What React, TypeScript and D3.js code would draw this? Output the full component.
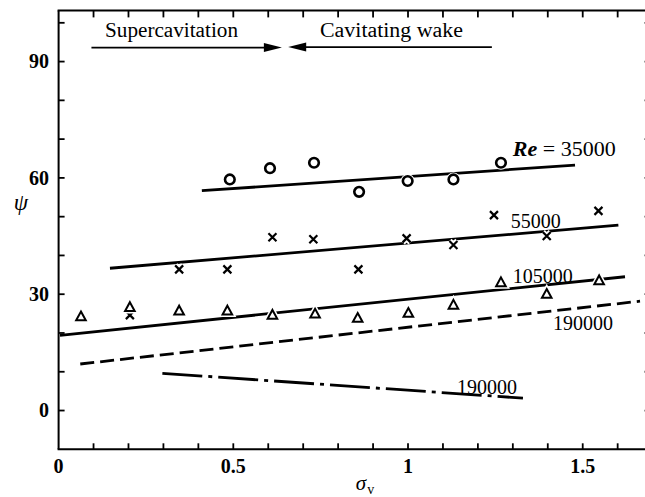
import React from "react";
import * as d3 from "d3";

const W = 645;
const H = 497;

// Measured points, psi against sigma_v, one pair of arrays per Reynolds number
const sigmaRe35000 = [0.49, 0.605, 0.731, 0.86, 0.999, 1.13, 1.266];
const psiRe35000 = [59.6, 62.5, 63.9, 56.4, 59.2, 59.6, 63.9];

const sigmaRe55000 = [0.204, 0.345, 0.483, 0.612, 0.729, 0.858, 0.996, 1.13, 1.246, 1.397, 1.545];
const psiRe55000 = [24.6, 36.4, 36.4, 44.7, 44.2, 36.4, 44.4, 42.7, 50.4, 45.0, 51.5];

const sigmaRe105000 = [0.064, 0.204, 0.345, 0.483, 0.612, 0.734, 0.856, 1.001, 1.13, 1.266, 1.397, 1.547];
const psiRe105000 = [24.2, 26.6, 25.7, 25.7, 24.6, 24.9, 23.8, 25.1, 27.2, 33.0, 30.0, 33.5];

// Trend lines: sigma_v at both ends, psi at both ends
const fitSigma35000 = [0.41, 1.478];
const fitPsi35000 = [56.7, 63.3];
const fitSigma55000 = [0.147, 1.602];
const fitPsi55000 = [36.7, 47.8];
const fitSigma105000 = [0.004, 1.621];
const fitPsi105000 = [19.4, 34.5];
const fitSigma190000a = [0.062, 1.664];
const fitPsi190000a = [12.0, 28.2];
const fitSigma190000b = [0.297, 1.329];
const fitPsi190000b = [9.6, 3.2];

// Axis ticks
const xMinorTicks = d3.range(1, 18).map((i) => i / 10);
const xLabelTicks = [0, 0.5, 1, 1.5];
const xLabelText = ["0", "0.5", "1", "1.5"];
const yMinorTicks = d3.range(0, 11).map((i) => i * 10);
const yLabelTicks = [0, 30, 60, 90];

const FONT = "'Liberation Serif', 'Times New Roman', serif";

export default function App() {
  const x = d3.scaleLinear().domain([0, 1.7]).range([58.6, 652.6]);
  const y = d3.scaleLinear().domain([-10, 103.2]).range([449.3, 10.4]);

  const line = d3
    .line<[number, number]>()
    .x((d) => x(d[0]))
    .y((d) => y(d[1]));

  const seg = (s: number[], p: number[]) =>
    line([
      [s[0], p[0]],
      [s[1], p[1]],
    ]) as string;

  const x0 = x(0);
  const yTop = y(103.2);
  const yBot = y(-10);
  const xRight = x(1.7);

  const circles = sigmaRe35000.map((s, i) => [s, psiRe35000[i]]);
  const crosses = sigmaRe55000.map((s, i) => [s, psiRe55000[i]]);
  const triangles = sigmaRe105000.map((s, i) => [s, psiRe105000[i]]);

  const triPath = "M0,-5.2L4.8,3.6L-4.8,3.6Z";

  // regime annotation arrows (data coordinates)
  const arrowY = y(93.6);
  const supStart = x(0.094);
  const supTip = x(0.639);
  const cavTip = x(0.657);
  const cavEnd = x(1.24);

  return (
    <svg
      width={W}
      height={H}
      viewBox={`0 0 ${W} ${H}`}
      style={{ position: "absolute", left: 0, top: 0, background: "#fff" }}
      fontFamily={FONT}
    >
      <rect width={W} height={H} fill="#fff" />

      {/* frame */}
      <g stroke="#000" strokeWidth={2} fill="none">
        <line x1={x0} x2={x0} y1={yTop} y2={yBot} />
        <line x1={x0 - 1} x2={W} y1={yBot} y2={yBot} />
        <line x1={x0 - 1} x2={W} y1={yTop} y2={yTop} />
        <line x1={xRight} x2={xRight} y1={yTop} y2={yBot} />
      </g>

      {/* ticks */}
      <g stroke="#000" strokeWidth={1.8}>
        {xMinorTicks.map((t) => (
          <g key={"xt" + t}>
            <line x1={x(t)} x2={x(t)} y1={yBot} y2={yBot - 6} />
            <line x1={x(t)} x2={x(t)} y1={yTop} y2={yTop + 7} />
          </g>
        ))}
        {yMinorTicks.map((t) => (
          <g key={"yt" + t}>
            <line x1={x0} x2={x0 + 6} y1={y(t)} y2={y(t)} />
            <line x1={xRight} x2={xRight - 8} y1={y(t)} y2={y(t)} />
          </g>
        ))}
      </g>

      {/* tick labels */}
      <g fontSize={20} fontWeight="bold" fill="#000">
        {xLabelTicks.map((t, i) => (
          <text key={"xl" + t} x={x(t)} y={473} textAnchor="middle">
            {xLabelText[i]}
          </text>
        ))}
        {yLabelTicks.map((t) => (
          <text key={"yl" + t} x={49} y={y(t)} dy="0.34em" textAnchor="end">
            {t}
          </text>
        ))}
      </g>

      {/* axis titles */}
      <text x={21} y={210} fontSize={23} fontStyle="italic" textAnchor="middle">
        ψ
      </text>
      <text x={365} y={490} fontSize={21} fontStyle="italic" textAnchor="middle">
        σ
        <tspan fontSize={14} fontStyle="normal" dy={4} dx={1}>
          v
        </tspan>
      </text>

      {/* regime annotations */}
      <g fill="#000" fontSize={20}>
        <text x={105} y={37} textLength={133} lengthAdjust="spacingAndGlyphs">
          Supercavitation
        </text>
        <text x={320} y={37} textLength={143} lengthAdjust="spacingAndGlyphs">
          Cavitating wake
        </text>
      </g>
      <g stroke="#000" strokeWidth={1.6}>
        <line x1={supStart} x2={supTip - 14} y1={arrowY} y2={arrowY} />
        <line x1={cavTip + 14} x2={cavEnd} y1={arrowY - 0.5} y2={arrowY - 0.5} />
      </g>
      <g fill="#000">
        <path d={`M${supTip},${arrowY}L${supTip - 18},${arrowY - 4.5}L${supTip - 18},${arrowY + 4.5}Z`} />
        <path d={`M${cavTip},${arrowY - 0.5}L${cavTip + 18},${arrowY - 5}L${cavTip + 18},${arrowY + 4}Z`} />
      </g>

      {/* trend lines */}
      <g fill="none" stroke="#000" strokeWidth={2.8}>
        <path d={seg(fitSigma35000, fitPsi35000)} />
        <path d={seg(fitSigma55000, fitPsi55000)} />
        <path d={seg(fitSigma105000, fitPsi105000)} />
        <path d={seg(fitSigma190000a, fitPsi190000a)} strokeDasharray="14 6" />
        <path d={seg(fitSigma190000b, fitPsi190000b)} strokeDasharray="40 6 4 6" />
      </g>

      {/* data markers, white halo breaks the lines beneath */}
      <g>
        {circles.map(([s, p], i) => (
          <g key={"c" + i} transform={`translate(${x(s)},${y(p)})`}>
            <circle r={5} fill="#fff" stroke="#fff" strokeWidth={4} />
            <circle r={4.8} fill="#fff" stroke="#000" strokeWidth={2.6} />
          </g>
        ))}
        {crosses.map(([s, p], i) => (
          <g key={"x" + i} transform={`translate(${x(s)},${y(p)})`}>
            <path d="M-4,-4L4,4M-4,4L4,-4" stroke="#fff" strokeWidth={6} />
            <path d="M-4,-4L4,4M-4,4L4,-4" stroke="#000" strokeWidth={2.2} />
          </g>
        ))}
        {triangles.map(([s, p], i) => (
          <g key={"t" + i} transform={`translate(${x(s)},${y(p)})`}>
            <path d={triPath} fill="#fff" stroke="#fff" strokeWidth={5} />
            <path d={triPath} fill="#fff" stroke="#000" strokeWidth={2} strokeLinejoin="miter" />
          </g>
        ))}
      </g>

      {/* curve labels */}
      <g fill="#000" fontSize={20}>
        <text x={x(1.3)} y={y(65.6)} textLength={103} lengthAdjust="spacingAndGlyphs">
          <tspan fontStyle="italic" fontWeight="bold">Re</tspan> = 35000
        </text>
        <text x={x(1.294)} y={y(47.1)}>55000</text>
        <text x={x(1.3)} y={y(32.9)}>105000</text>
        <text x={x(1.415)} y={y(20.8)}>190000</text>
        <text x={x(1.14)} y={y(4.3)}>190000</text>
      </g>
    </svg>
  );
}
